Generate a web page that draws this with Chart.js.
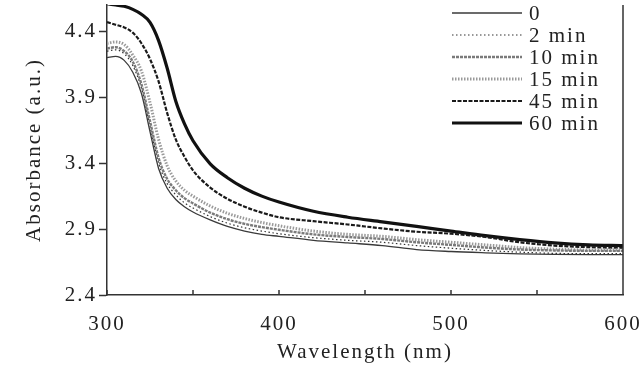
<!DOCTYPE html>
<html>
<head>
<meta charset="utf-8">
<script src="https://cdn.jsdelivr.net/npm/chart.js@4"></script>
<style>
  html, body { margin: 0; padding: 0; background: #fff; }
  #wrap { width: 640px; height: 368px; }
</style>
</head>
<body>
<div id="wrap"><canvas id="uvChart" width="640" height="368"></canvas></div>
<script>
// wavelengths (nm)
const wavelengths = [300, 305, 310, 315, 320, 325, 330, 335, 340, 345, 350, 360, 370, 380, 390, 400, 420, 440, 460, 480, 500, 520, 540, 560, 580, 600];

// absorbance per irradiation time
const abs0   = [4.20, 4.21, 4.18, 4.09, 3.93, 3.64, 3.36, 3.21, 3.125, 3.07, 3.03, 2.97, 2.92, 2.885, 2.86, 2.845, 2.815, 2.795, 2.775, 2.745, 2.73, 2.72, 2.712, 2.708, 2.706, 2.706];
const abs2   = [4.25, 4.26, 4.23, 4.14, 3.97, 3.68, 3.40, 3.245, 3.16, 3.10, 3.06, 2.995, 2.945, 2.91, 2.885, 2.865, 2.835, 2.815, 2.80, 2.775, 2.755, 2.738, 2.725, 2.716, 2.714, 2.714];
const abs10  = [4.27, 4.28, 4.25, 4.17, 4.00, 3.72, 3.44, 3.28, 3.195, 3.135, 3.095, 3.025, 2.975, 2.94, 2.915, 2.895, 2.86, 2.84, 2.825, 2.80, 2.78, 2.76, 2.745, 2.738, 2.735, 2.735];
const abs15  = [4.31, 4.32, 4.30, 4.22, 4.10, 3.86, 3.58, 3.38, 3.265, 3.195, 3.15, 3.075, 3.02, 2.98, 2.95, 2.925, 2.885, 2.86, 2.845, 2.82, 2.80, 2.78, 2.76, 2.748, 2.742, 2.742];
const abs45  = [4.47, 4.45, 4.43, 4.39, 4.31, 4.19, 4.02, 3.78, 3.58, 3.45, 3.345, 3.215, 3.13, 3.07, 3.025, 2.99, 2.96, 2.935, 2.905, 2.88, 2.865, 2.84, 2.80, 2.775, 2.763, 2.758];
const abs60  = [4.61, 4.60, 4.59, 4.567, 4.53, 4.468, 4.33, 4.12, 3.87, 3.70, 3.57, 3.395, 3.29, 3.21, 3.15, 3.105, 3.035, 2.99, 2.955, 2.92, 2.885, 2.85, 2.82, 2.795, 2.78, 2.775];

const seriesNames = ['0', '2 min', '10 min', '15 min', '45 min', '60 min'];
const seriesData = [abs0, abs2, abs10, abs15, abs45, abs60];

// axis ticks
const xTickValues = [300, 350, 400, 450, 500, 550, 600];
const xTickLabels = [300, 400, 500, 600];
const yTickValues = [2.4, 2.9, 3.4, 3.9, 4.4];

// line styles for each series
const lineStyles = [
  { color: '#3a3a3a', width: 1.3, dash: [] },
  { color: '#333333', width: 1.2, dash: [1.5, 2.5] },
  { color: '#7a7a7a', width: 2.4, dash: [3, 1] },
  { color: '#9a9a9a', width: 3,   dash: [1.5, 1.5] },
  { color: '#1a1a1a', width: 2.2, dash: [4, 1.5] },
  { color: '#111111', width: 3.2, dash: [] }
];

const serif = '"Liberation Serif", "Times New Roman", serif';
const axisColor = '#333';
const spacing = '2px';

var datasets = seriesData.map((vals, i) => ({
  label: seriesNames[i],
  data: wavelengths.map((w, j) => ({ x: w, y: vals[j] })),
  borderColor: lineStyles[i].color,
  borderWidth: lineStyles[i].width,
  borderDash: lineStyles[i].dash,
  pointRadius: 0,
  fill: false,
  cubicInterpolationMode: 'monotone'
}));

// wide-set serif text like the scanned figure
const spacingPlugin = {
  id: 'spacing',
  beforeInit(chart) { chart.ctx.letterSpacing = spacing; },
  beforeDraw(chart) { chart.ctx.letterSpacing = spacing; }
};

// inward x ticks, right spine and the legend drawn inside the plot
const framePlugin = {
  id: 'frame',
  afterDraw(chart) {
    const ctx = chart.ctx;
    const area = chart.chartArea;
    const xs = chart.scales.x;
    ctx.save();
    ctx.strokeStyle = axisColor;
    ctx.lineWidth = 1.5;
    ctx.beginPath();
    ctx.moveTo(area.right, area.top);
    ctx.lineTo(area.right, area.bottom);
    xTickValues.forEach(v => {
      const px = xs.getPixelForValue(v);
      ctx.moveTo(px, area.bottom);
      ctx.lineTo(px, area.bottom - 5);
    });
    ctx.stroke();

    // legend
    ctx.font = '21px ' + serif;
    ctx.letterSpacing = spacing;
    ctx.textBaseline = 'middle';
    ctx.fillStyle = '#222';
    chart.data.datasets.forEach((ds, i) => {
      const y = 13 + i * 22;
      ctx.strokeStyle = ds.borderColor;
      ctx.lineWidth = ds.borderWidth;
      ctx.setLineDash(ds.borderDash);
      ctx.beginPath();
      ctx.moveTo(452, y);
      ctx.lineTo(522, y);
      ctx.stroke();
      ctx.setLineDash([]);
      ctx.fillText(ds.label, 529, y + 1);
    });
    ctx.restore();
  }
};

var myChart = new Chart(document.getElementById('uvChart').getContext('2d'), {
  type: 'line',
  data: { datasets: datasets },
  options: {
    responsive: false,
    animation: false,
    layout: { padding: { top: 5, right: 17, left: 0, bottom: 0 } },
    plugins: {
      legend: { display: false },
      tooltip: { enabled: false }
    },
    scales: {
      x: {
        type: 'linear',
        min: 300,
        max: 600,
        afterBuildTicks: s => { s.ticks = xTickValues.map(v => ({ value: v })); },
        afterFit: s => { s.height = 73; s.paddingLeft = 0; s.paddingRight = 0; },
        ticks: {
          padding: 17,
          maxRotation: 0,
          color: '#222',
          font: { family: serif, size: 21 },
          callback: v => xTickLabels.includes(v) ? String(v) : ''
        },
        grid: { display: true, drawOnChartArea: false, drawTicks: false },
        border: { display: true, color: axisColor, width: 1.5 },
        title: {
          display: true,
          text: 'Wavelength (nm)',
          color: '#222',
          font: { family: serif, size: 21 },
          padding: { top: 0, bottom: 3 }
        }
      },
      y: {
        min: 2.4,
        max: 4.6,
        afterBuildTicks: s => { s.ticks = yTickValues.map(v => ({ value: v })); },
        afterFit: s => { s.width = 107; s.paddingTop = 0; s.paddingBottom = 0; },
        ticks: {
          padding: 2,
          color: '#222',
          font: { family: serif, size: 21 },
          callback: v => v.toFixed(1)
        },
        grid: { display: true, drawOnChartArea: false, drawTicks: true, tickLength: 8, color: axisColor, tickWidth: 1.5 },
        border: { display: true, color: axisColor, width: 1.5 },
        title: {
          display: true,
          text: 'Absorbance (a.u.)',
          color: '#222',
          font: { family: serif, size: 21 },
          padding: { top: 22, bottom: 0 }
        }
      }
    }
  },
  plugins: [spacingPlugin, framePlugin]
});
</script>
</body>
</html>
